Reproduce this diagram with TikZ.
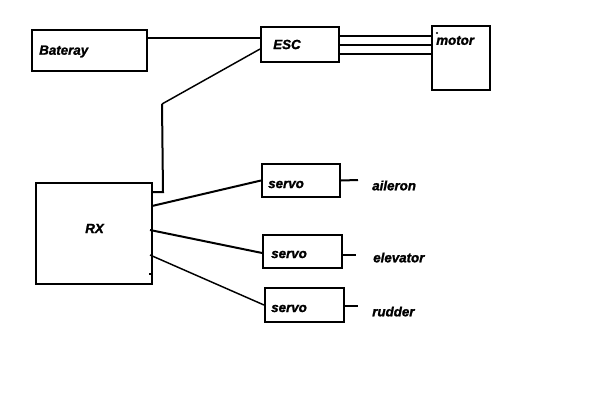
\documentclass[tikz,border=0pt]{standalone}
\usepackage{fontspec}
\setmainfont[BoldItalicFeatures={FakeBold=1.5}]{Liberation Sans}
\usetikzlibrary{
  calc,
  positioning
}
\tikzset{
  partbox/.style={draw=black,line width=1.5pt,inner sep=0pt},
  tag/.style={anchor=west,inner sep=0pt,font=\fontsize{10}{11}\selectfont\bfseries\itshape},
  wire/.style={draw=black,line width=1.5pt},
  thinwire/.style={draw=black,line width=1.1pt}
}
\begin{document}
\begin{tikzpicture}[x=0.75pt,y=-0.75pt]
  \useasboundingbox (0,0) rectangle (592,407);
  % boxes
  \node[partbox,minimum width=86.25pt,minimum height=30.75pt] (bat) at (89.5,50.5) {};
  \node[partbox,minimum width=58.5pt,minimum height=26.25pt] (esc) at (300,44.5) {};
  \node[partbox,minimum width=43.5pt,minimum height=48pt] (motor) at (461,58) {};
  \node[partbox,minimum width=87pt,minimum height=75.75pt] (rx) at (94,233.5) {};
  \node[partbox,minimum width=58.5pt,minimum height=24.75pt] (servoa) at (301,180.5) {};
  \node[partbox,minimum width=59.25pt,minimum height=24.75pt] (servob) at (302.5,251.5) {};
  \node[partbox,minimum width=59.25pt,minimum height=25.5pt] (servoc) at (304.5,305) {};

  % texts
  \node[tag] (tbat) at (39,51.5) {Bateray};
  \node[tag] (tesc) at (273,44.5) {ESC};
  \node[tag] (tmotor) at (436,40.5) {motor};
  \node[tag] (trx) at (85,228.5) {RX};
  \node[tag] (tservoa) at (268,184.5) {servo};
  \node[tag] (tservob) at (271,254.5) {servo};
  \node[tag] (tservoc) at (271,308.5) {servo};
  \node[tag] (taileron) at (372,185.5) {aileron};
  \node[tag] (televator) at (373,257.5) {elevator};
  \node[tag] (trudder) at (372,311.5) {rudder};

  % free ends
  \coordinate (bend) at (162,104);
  \coordinate (foot) at (163,192);
  \coordinate (enda) at (358,180);
  \coordinate (endb) at (356,255);
  \coordinate (endc) at (358,306);
  \coordinate (pina) at (152,206);
  \coordinate (pinb) at (150,230);
  \coordinate (pinc) at (150,255);
  \coordinate (pind) at (149,274);
  \coordinate (spot) at (437,33);

  % power side
  \draw[wire] ([yshift=9.4pt]bat.east) -- ([yshift=9.4pt]bat.east -| esc.west);
  \foreach \dy in {-6.75,0,6.75}
    \draw[wire] ([yshift=\dy pt]esc.east) -- ($(esc.east -| motor.west)+(0,\dy pt)$);
  \draw[thinwire] ([yshift=-3.4pt]esc.west) -- (bend);
  \draw[wire] (bend) -- (foot) -- (foot -| rx.east);

  % servo side
  \draw[wire] (pina) -- (servoa.west);
  \draw[wire] (pinb) -- ([yshift=-1.1pt]servob.west);
  \draw[thinwire] (pinc) -- (servoc.west);
  \draw[wire] (pind) -- (pind -| rx.east);
  \draw[wire] (servoa.east) -- (enda);
  \draw[wire] (servob.east |- endb) -- (endb);
  \draw[wire] (servoc.east |- endc) -- (endc);
  \fill (spot) circle (0.8pt);
\end{tikzpicture}
\end{document}
